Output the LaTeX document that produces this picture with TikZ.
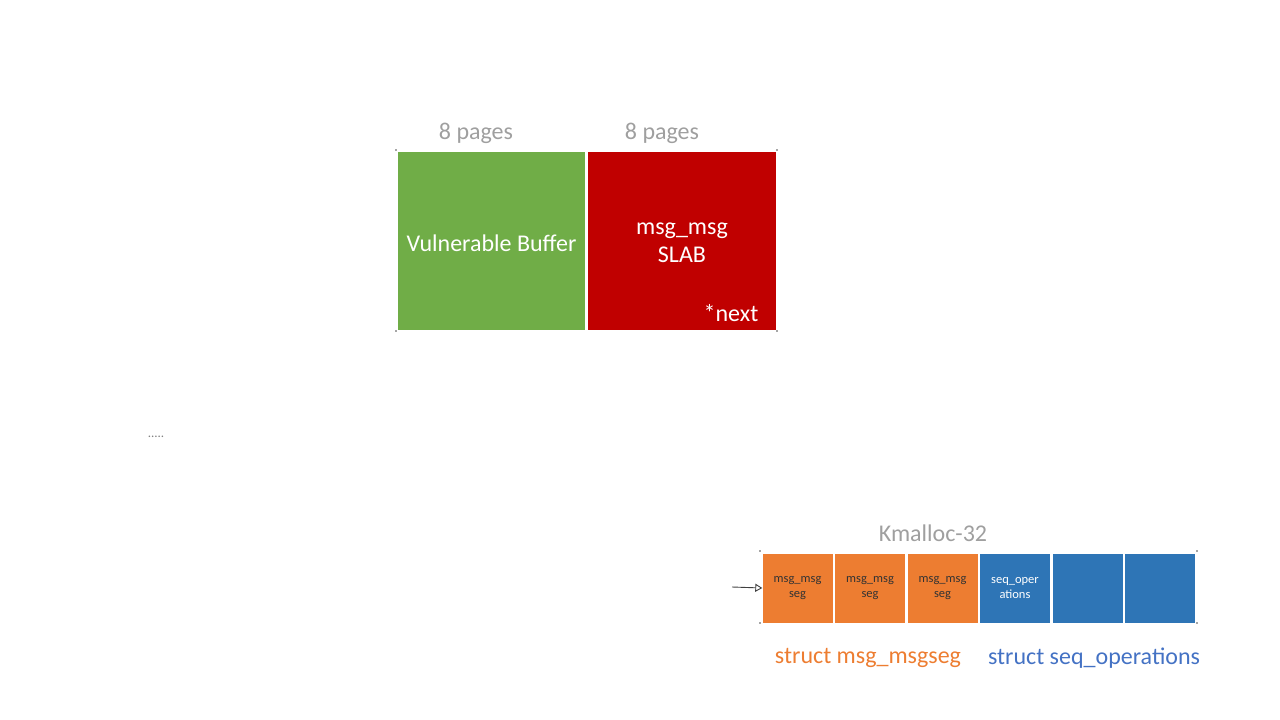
\documentclass[tikz,border=0pt]{standalone}
\usepackage{fontspec}
\setmainfont{Carlito}
\usetikzlibrary{arrows.meta}
\definecolor{vbgreen}{HTML}{70AD47}
\definecolor{slabred}{HTML}{C00000}
\definecolor{segorange}{HTML}{ED7D31}
\definecolor{seqblue}{HTML}{2E75B6}
\definecolor{lblblue}{HTML}{4472C4}
\tikzset{
  bigtxt/.style={font=\fontsize{24}{28}\selectfont},
  pagebox/.style={inner sep=0pt, minimum width=187pt, minimum height=178pt, text=white, align=center, bigtxt},
  slotbox/.style={inner sep=0pt, minimum width=70pt, minimum height=69pt, align=center, font=\fontsize{12.5}{15}\selectfont},
  hint/.style={text=gray!75, bigtxt},
  handle/.style={fill=gray!70, inner sep=0pt, minimum size=1.2pt}
}
\begin{document}
\begin{tikzpicture}[x=1pt, y=-1pt]
\useasboundingbox (0,0) rectangle (1280,720);
% page layout
\node[hint](p1) at (476,133) {8 pages};
\node[hint](p2) at (662,133) {8 pages};
\node[pagebox, fill=vbgreen](vb) at (491.5,241) {};
\node[text=white, bigtxt](vbtxt) at (491.5,243) {Vulnerable Buffer};
\node[pagebox, fill=slabred, minimum width=188pt](slab) at (682,241) {};
\node[text=white, align=center, bigtxt](slabtxt) at (682,243) {msg\_msg\\SLAB};
\node[text=white, bigtxt](next) at (731,313) {*next};
\node[handle] at (396,150) {}; \node[handle] at (777,150) {};
\node[handle] at (396,331) {}; \node[handle] at (777,331) {};
\node[text=gray, font=\fontsize{13}{13}\selectfont](dots) at (156,437) {.....};
% kmalloc-32 slots
\node[hint](km) at (933,533) {Kmalloc-32};
\node[slotbox, fill=segorange, text=black!80](s1) at (797.5,588) {msg\_msg\\seg};
\node[slotbox, fill=segorange, text=black!80](s2) at (870,588) {msg\_msg\\seg};
\node[slotbox, fill=segorange, text=black!80](s3) at (942.5,588) {msg\_msg\\seg};
\node[slotbox, fill=seqblue, text=white](s4) at (1015,588) {seq\_oper\\ations};
\node[slotbox, fill=seqblue](s5) at (1088,588) {};
\node[slotbox, fill=seqblue](s6) at (1160,588) {};
\node[handle] at (760,551) {}; \node[handle] at (1197,551) {};
\node[handle] at (760,623) {}; \node[handle] at (1197,623) {};
\coordinate (in) at (732,587);
\draw[-{Triangle[open, length=7pt, width=8pt]}, gray!50!black, line width=0.9pt] (in) -- (s1.west);
\node[text=segorange, bigtxt](lseg) at (868,658) {struct msg\_msgseg};
\node[text=lblblue, bigtxt](lseq) at (1094,658) {struct seq\_operations};
\end{tikzpicture}
\end{document}
